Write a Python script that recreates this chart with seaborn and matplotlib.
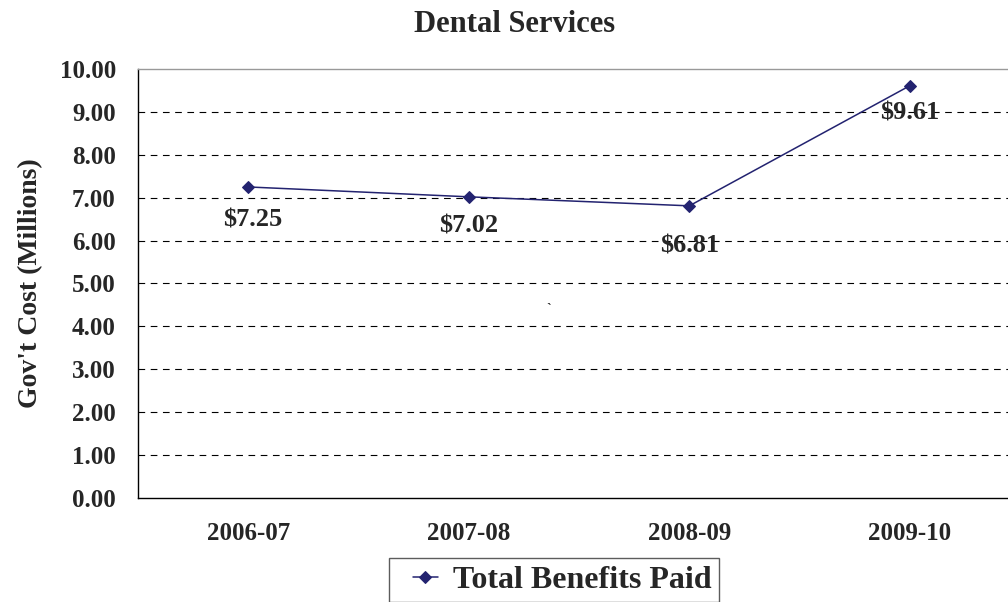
import matplotlib
matplotlib.use("Agg")
import matplotlib.pyplot as plt
import seaborn as sns
import pandas as pd
from matplotlib.ticker import FixedLocator
from matplotlib.legend_handler import HandlerLine2D

# ==========================================================
# DATA
# ==========================================================

years = ["2006-07", "2007-08", "2008-09", "2009-10"]
benefits = [7.25, 7.02, 6.81, 9.61]
point_labels = ["$7.25", "$7.02", "$6.81", "$9.61"]
y_ticks = [0, 1, 2, 3, 4, 5, 6, 7, 8, 9, 10]

df = pd.DataFrame({"year": years, "benefits": benefits})

# ==========================================================
# STYLE
# ==========================================================

sns.set_style("white")
plt.rcParams["font.family"] = ["Liberation Serif", "DejaVu Serif"]
plt.rcParams["font.weight"] = "bold"

NAVY = "#232370"

fig = plt.figure(figsize=(10.08, 6.02), dpi=100)
ax = fig.add_axes([0.137, 0.1728, 0.875, 0.7126])

sns.lineplot(data=df, x="year", y="benefits", ax=ax, color=NAVY,
             marker="D", markersize=6, linewidth=1.1,
             markeredgecolor=NAVY, label="Total Benefits Paid", legend=False)

# data labels
offsets = [(3, -24), (0, -21), (0, -29), (0, -20)]
for i, (lab, off) in enumerate(zip(point_labels, offsets)):
    ax.annotate(lab, (i, benefits[i]), xytext=off, textcoords="offset points",
                ha="center", va="center", fontsize=19, fontweight="bold")

# stray mark from the original
ax.text(1.36, 4.4, "`", fontsize=10, ha="center", va="center")

# ==========================================================
# AXES
# ==========================================================

ax.set_ylim(0, 10)
ax.set_xlim(-0.5, 3.5)
ax.set_yticks(y_ticks)
ax.set_yticklabels([f"{v:.2f}" for v in y_ticks], fontsize=18, fontweight="bold")
ax.set_xticks(range(len(years)))
ax.set_xticklabels(years, fontsize=18, fontweight="bold")
ax.xaxis.set_minor_locator(FixedLocator([-0.5, 0.5, 1.5, 2.5, 3.5]))
ax.tick_params(axis="x", which="major", length=0, pad=17)
ax.tick_params(axis="x", which="minor", length=7, width=1, color="black", direction="out")
ax.tick_params(axis="y", length=6, width=1, color="black", direction="out", pad=10)

ax.set_xlabel("")
ax.set_ylabel("Gov't Cost (Millions)", fontsize=20, fontweight="bold", labelpad=12)

for y in y_ticks[1:-1]:
    ax.axhline(y, color="black", linestyle=(0, (6, 5)), linewidth=0.8, zorder=0)

ax.spines["left"].set_color("black")
ax.spines["bottom"].set_color("black")
ax.spines["left"].set_linewidth(1)
ax.spines["bottom"].set_linewidth(1)
ax.spines["top"].set_color("#999999")
ax.spines["top"].set_linewidth(1)
ax.spines["right"].set_visible(False)

fig.text(0.510, 0.960, "Dental Services", ha="center", va="center",
         fontsize=22, fontweight="bold")

handles, labels = ax.get_legend_handles_labels()
leg = fig.legend(handles, labels, loc="center", bbox_to_anchor=(0.5496, 0.0365),
                 fontsize=23, frameon=True, fancybox=False, edgecolor="#333333",
                 handlelength=1.33, borderpad=0.22, handletextpad=0.47,
                 borderaxespad=0,
                 handler_map={handles[0]: HandlerLine2D(xpad=0.52)})
leg.get_frame().set_linewidth(1)

fig.savefig("out.png", dpi=100)
